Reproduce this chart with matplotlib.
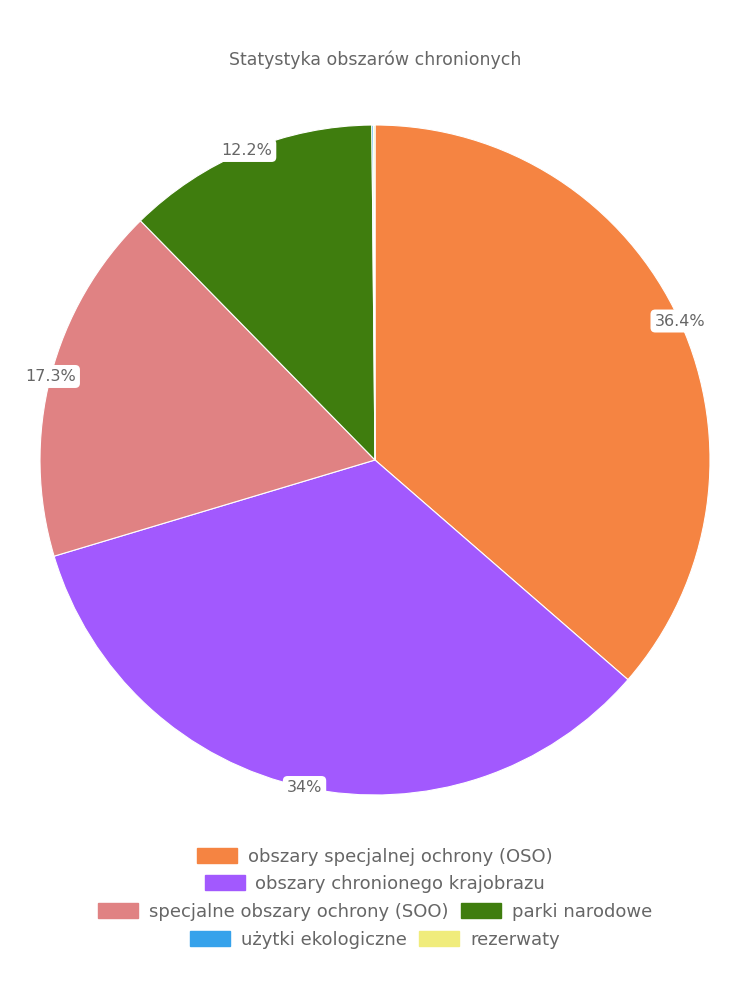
import matplotlib.pyplot as plt
from matplotlib.patches import Patch
import numpy as np

plt.rcParams['font.family'] = ['DejaVu Sans']

title = "Statystyka obszarów chronionych"
labels = ["obszary specjalnej ochrony (OSO)",
          "obszary chronionego krajobrazu",
          "specjalne obszary ochrony (SOO)",
          "parki narodowe",
          "użytki ekologiczne",
          "rezerwaty"]
shares = [36.4, 34.0, 17.3, 12.2, 0.08, 0.07]
pct_text = ["36.4%", "34%", "17.3%", "12.2%", None, None]
colors = ["#f58442", "#a259fe", "#e08283", "#3f7d0e", "#36a2eb", "#f0ec7c"]
legend_rows = [[0], [1], [2, 3], [4, 5]]

fig = plt.figure(figsize=(7.5, 10), dpi=100)
R = 335
cx, cy = 375, 460
ax = fig.add_axes([(cx - R) / 750, (1000 - cy - R) / 1000, 2 * R / 750, 2 * R / 1000])

wedges, _ = ax.pie(shares, colors=colors, startangle=90, counterclock=False,
                   wedgeprops=dict(edgecolor="white", linewidth=0.8))
ax.set_xlim(-1, 1)
ax.set_ylim(-1, 1)
ax.set_aspect("equal")
ax.axis("off")

# percentage labels sit on the outer edge of each slice
total = sum(shares)
start = 0.0
for val, txt in zip(shares, pct_text):
    mid = (start + val / 2) / total * 2 * np.pi
    start += val
    if txt is None:
        continue
    ax.text(np.sin(mid), np.cos(mid), txt, ha="center", va="center",
            fontsize=11.5, color="#666666",
            bbox=dict(boxstyle="round,pad=0.25,rounding_size=0.3",
                      fc="white", ec="none"))

fig.text(0.5, 1 - 60 / 1000, title, ha="center", va="center",
         fontsize=12.5, color="#666666")

row_y = [857, 884, 912, 940]
for row, y in zip(legend_rows, row_y):
    handles = [Patch(facecolor=colors[i], edgecolor=colors[i]) for i in row]
    fig.legend(handles, [labels[i] for i in row], loc="center",
               bbox_to_anchor=(0.5, 1 - y / 1000), ncol=len(row),
               frameon=False, fontsize=13, labelcolor="#666666",
               handlelength=2.2, handleheight=0.9, handletextpad=0.6,
               columnspacing=0.7, borderpad=0, borderaxespad=0)

fig.savefig("out.png", dpi=100)
